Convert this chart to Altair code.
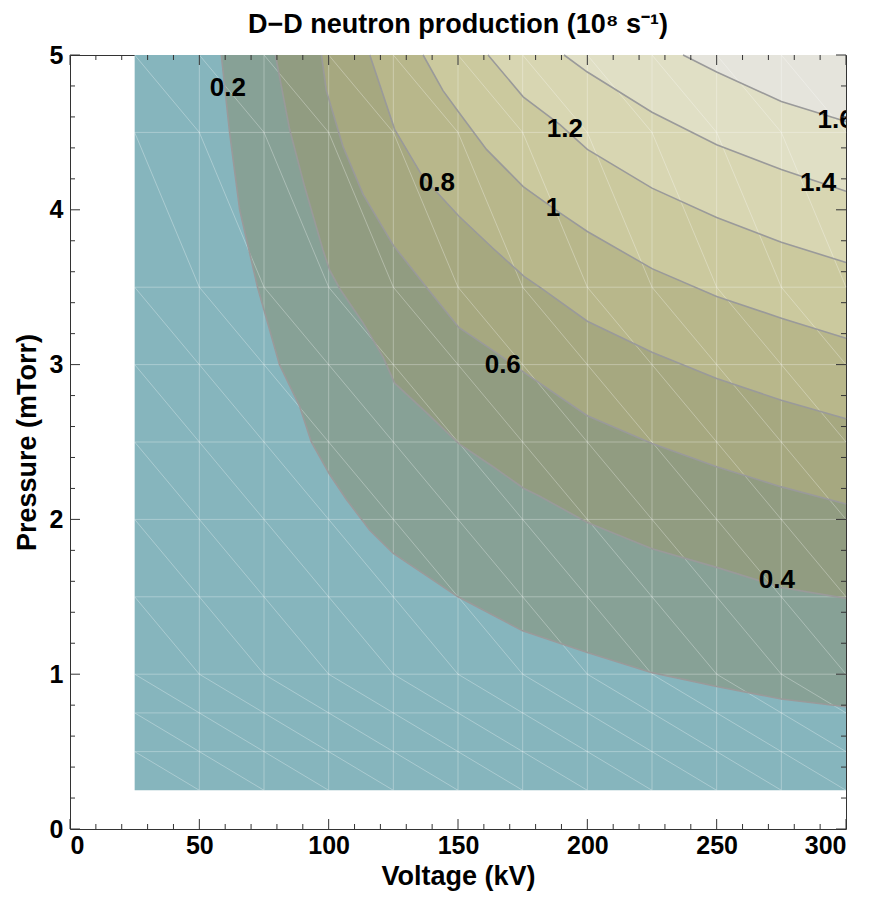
import altair as alt
import pandas as pd

# ---------------- data ----------------
levels = [0.2, 0.4, 0.6, 0.8, 1.0, 1.2, 1.4, 1.6]
band_colors = ["#87a196", "#919c81", "#a6a880", "#b8b78b", "#cbc99e", "#d8d6b2", "#e0dfc5", "#e5e4dc"]
base_color = "#86b5bd"

# sample grid (mesh) of the measurements
volt_grid = [25, 50, 75, 100, 125, 150, 175, 200, 225, 250, 275, 300]
press_grid = [0.25, 0.5, 0.75, 1.0, 1.5, 2.0, 2.5, 3.0, 3.5, 4.5, 5.0]

# contour lines
c02_x = [58.5, 61.7, 65.6, 72.5, 81.0, 88.8, 93.3, 100.4, 106.8, 115.9, 125.0, 150.0, 166.0, 175.0, 200.0, 225.0, 250.0, 275.0, 300.0]
c02_y = [5.0, 4.5, 4.0, 3.5, 3.0, 2.73, 2.5, 2.29, 2.13, 1.93, 1.78, 1.5, 1.36, 1.28, 1.14, 1.01, 0.92, 0.84, 0.79]
c04_x = [79.4, 84.9, 90.7, 97.8, 100.4, 104.3, 113.3, 121.0, 125.5, 137.8, 150.3, 163.6, 175.5, 181.6, 200.0, 225.0, 250.0, 275.0, 300.0]
c04_y = [5.0, 4.52, 4.15, 3.74, 3.61, 3.49, 3.27, 3.05, 2.88, 2.69, 2.49, 2.34, 2.2, 2.15, 1.98, 1.81, 1.69, 1.56, 1.49]
c06_x = [97.2, 99.1, 105.5, 113.3, 125.0, 137.8, 150.3, 163.6, 175.5, 200.0, 225.0, 250.0, 275.0, 300.0]
c06_y = [5.0, 4.77, 4.41, 4.1, 3.77, 3.5, 3.24, 3.09, 2.95, 2.67, 2.49, 2.34, 2.21, 2.1]
c08_x = [115.9, 125.5, 136.5, 150.3, 163.6, 175.5, 181.6, 200.0, 225.0, 250.0, 275.0, 300.0]
c08_y = [5.0, 4.52, 4.21, 3.96, 3.75, 3.57, 3.5, 3.28, 3.08, 2.91, 2.77, 2.65]
c10_x = [136.5, 144.2, 150.3, 161.0, 175.2, 189.4, 200.0, 225.0, 250.0, 275.0, 300.0]
c10_y = [5.0, 4.77, 4.63, 4.39, 4.15, 3.98, 3.86, 3.62, 3.44, 3.3, 3.17]
c12_x = [161.6, 175.2, 189.4, 200.0, 225.0, 250.0, 275.0, 300.0]
c12_y = [5.0, 4.73, 4.55, 4.39, 4.14, 3.95, 3.79, 3.66]
c14_x = [191.0, 200.0, 225.0, 250.0, 275.0, 300.0]
c14_y = [5.0, 4.89, 4.63, 4.42, 4.26, 4.12]
c16_x = [237.0, 250.0, 275.0, 300.0]
c16_y = [5.0, 4.89, 4.70, 4.57]

contour_x = [c02_x, c04_x, c06_x, c08_x, c10_x, c12_x, c14_x, c16_x]
contour_y = [c02_y, c04_y, c06_y, c08_y, c10_y, c12_y, c14_y, c16_y]

# contour labels
lab_text = ["0.2", "0.4", "0.6", "0.8", "1", "1.2", "1.4", "1.6"]
lab_x = [61.0, 273.3, 167.3, 141.8, 186.7, 191.3, 289.2, 296.0]
lab_y = [4.79, 1.61, 3.0, 4.17, 4.01, 4.52, 4.17, 4.58]

x_major = [0, 50, 100, 150, 200, 250, 300]
y_major = [0, 1, 2, 3, 4, 5]
x_minor = [v for v in range(0, 301, 10) if v % 50 != 0]
y_minor = [round(v * 0.2, 1) for v in range(0, 26) if v % 5 != 0]

# ---------------- build ----------------
W, H = 776, 774
FONT = "Liberation Sans"

xscale = alt.Scale(domain=[0, 300], nice=False, zero=False)
yscale = alt.Scale(domain=[0, 5], nice=False, zero=False)
xaxis = alt.Axis(values=x_major, title="Voltage (kV)", format="d", labelPadding=4, titlePadding=5)
yaxis = alt.Axis(values=y_major, title="Pressure (mTorr)", format="d", labelPadding=7, titlePadding=8)


def X(f):
    return alt.X(f, type="quantitative", scale=xscale, axis=xaxis)


def Y(f):
    return alt.Y(f, type="quantitative", scale=yscale, axis=yaxis)


base_df = pd.DataFrame({"x": [volt_grid[0]], "x2": [volt_grid[-1]], "y": [press_grid[0]], "y2": [press_grid[-1]]})
base = alt.Chart(base_df).mark_rect(color=base_color).encode(
    x=X("x"), x2="x2", y=Y("y"), y2="y2"
)

layers = [base]
rows = []
for lev, xs, ys in zip(levels, contour_x, contour_y):
    for xv, yv in zip(xs, ys):
        rows.append({"level": lev, "x": xv, "y": yv})
cont_df = pd.DataFrame(rows)

top_p = press_grid[-1]
for lev, col in zip(levels, band_colors):
    sub = cont_df[cont_df["level"] == lev]
    layers.append(
        alt.Chart(sub).mark_area(color=col, opacity=1).transform_calculate(
            top=str(top_p)
        ).encode(
            x=X("x"), y=Y("y"), y2="top:Q"
        )
    )

# mesh
mesh_rows = []
for v in volt_grid[1:-1]:
    mesh_rows.append({"x": v, "x2": v, "y": press_grid[0], "y2": press_grid[-1]})
for p in press_grid[1:-1]:
    mesh_rows.append({"x": volt_grid[0], "x2": volt_grid[-1], "y": p, "y2": p})
for i in range(len(volt_grid) - 1):
    for j in range(len(press_grid) - 1):
        mesh_rows.append({"x": volt_grid[i], "x2": volt_grid[i + 1], "y": press_grid[j + 1], "y2": press_grid[j]})
mesh_df = pd.DataFrame(mesh_rows)
mesh = alt.Chart(mesh_df).mark_rule(color="white", opacity=0.3, strokeWidth=1).encode(
    x=X("x"), x2="x2", y=Y("y"), y2="y2"
)
layers.append(mesh)

lines = alt.Chart(cont_df).mark_line(color="#9a9a9a", strokeWidth=1.6).encode(
    x=X("x"), y=Y("y"), detail="level:N", order="x:Q"
)
layers.append(lines)

lab_df = pd.DataFrame({"t": lab_text, "x": lab_x, "y": lab_y})
labels = alt.Chart(lab_df).mark_text(
    font=FONT, fontSize=26, fontWeight="bold", color="black", clip=True
).encode(x=X("x"), y=Y("y"), text="t:N")
layers.append(labels)

# inward frame ticks
TC = "#333333"
xmaj_df = pd.DataFrame({"x": x_major})
xmin_df = pd.DataFrame({"x": x_minor})
ymaj_df = pd.DataFrame({"y": y_major})
ymin_df = pd.DataFrame({"y": y_minor})
for df, ln in [(xmaj_df, 10), (xmin_df, 5)]:
    layers.append(alt.Chart(df).mark_rule(color=TC, strokeWidth=1).encode(x=X("x"), y=alt.value(H), y2=alt.value(H - ln)))
    layers.append(alt.Chart(df).mark_rule(color=TC, strokeWidth=1).encode(x=X("x"), y=alt.value(0), y2=alt.value(ln)))
for df, ln in [(ymaj_df, 10), (ymin_df, 5)]:
    layers.append(alt.Chart(df).mark_rule(color=TC, strokeWidth=1).encode(y=Y("y"), x=alt.value(0), x2=alt.value(ln)))
    layers.append(alt.Chart(df).mark_rule(color=TC, strokeWidth=1).encode(y=Y("y"), x=alt.value(W), x2=alt.value(W - ln)))

chart = alt.layer(*layers).properties(
    width=W,
    height=H,
    title=alt.TitleParams(
        text="D−D neutron production (10⁸ s⁻¹)",
        font=FONT, fontSize=27, fontWeight="bold", color="black",
        anchor="middle", frame="group", offset=4,
    ),
    autosize=alt.AutoSizeParams(type="none"),
    padding={"left": 70, "top": 55, "right": 23, "bottom": 69},
).configure_view(
    stroke="#333333", strokeWidth=1
).configure_axis(
    labelFont=FONT, labelFontSize=25, labelFontWeight="bold", labelColor="black",
    titleFont=FONT, titleFontSize=27, titleFontWeight="bold", titleColor="black",
    ticks=False, domain=False, grid=False,
)

chart.save("out.html", embed_options={"renderer": "svg", "actions": False})
